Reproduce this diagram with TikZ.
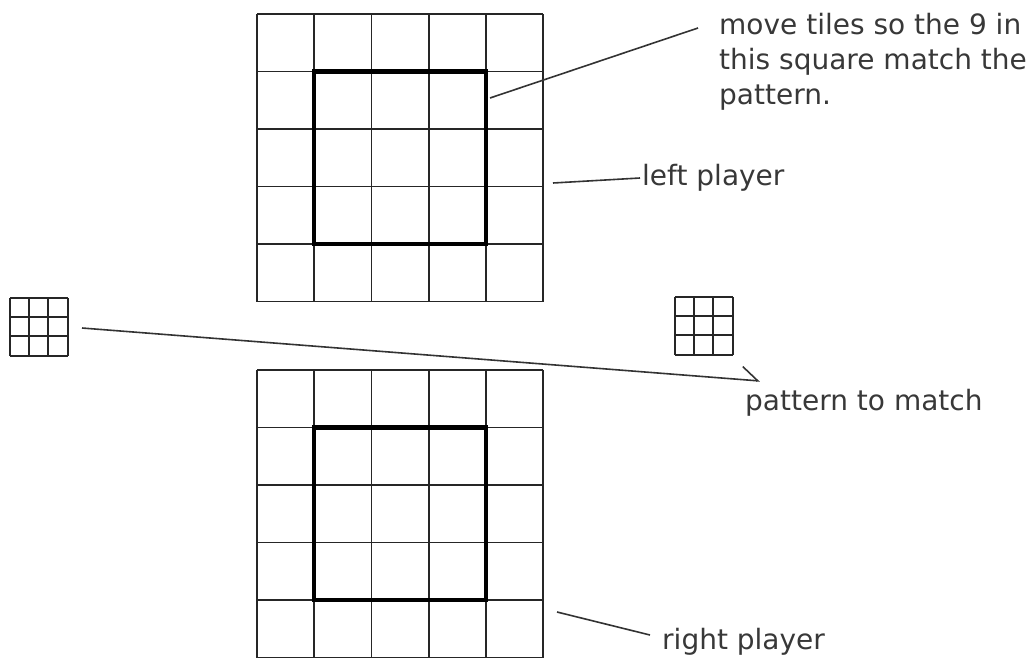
\documentclass[tikz,border=0pt]{standalone}
\usepackage{fontspec}
\setmainfont{DejaVu Sans}
\usetikzlibrary{arrows.meta, positioning}
\tikzset{
  cellline/.style={draw=black!85, line width=1.8pt},
  bigbox/.style={draw=black, line width=4.4pt},
  miniline/.style={draw=black!85, line width=2pt},
  note/.style={font=\fontsize{28}{35}\selectfont, text=black!78, inner sep=0pt, align=left},
  leader/.style={draw=black!80, line width=1.6pt},
}

\begin{document}
\begin{tikzpicture}[x=1pt, y=-1pt]
  \useasboundingbox (0,0) rectangle (1036,659);

  % the two boards, 5x5 tiles each
  \foreach \top in {14,370} {
    \foreach \k in {0,...,5} {
      \draw[cellline] ({257+\k*57.2},\top) -- ({257+\k*57.2},{\top+287.5});
      \draw[cellline] (257,{\top+\k*57.5}) -- (543,{\top+\k*57.5});
    }
    \draw[bigbox] ({257+57.2},{\top+57.5}) rectangle ({257+4*57.2},{\top+4*57.5});
  }

  % small 3x3 patterns
  \foreach \lx/\ty in {10/298, 675/297} {
    \foreach \k in {0,...,3} {
      \draw[miniline] ({\lx+\k*19.2},\ty) -- ({\lx+\k*19.2},{\ty+57.5});
      \draw[miniline] (\lx,{\ty+\k*19.2}) -- ({\lx+57.5},{\ty+\k*19.2});
    }
  }

  % notes
  \node[note, anchor=north west] (movenote) at (719,13)
    {move tiles so the 9 in\\this square match the\\pattern.};
  \node[note, anchor=base west] (leftnote) at (642,185) {left player};
  \node[note, anchor=base west] (rightnote) at (662,649) {right player};
  \node[note, anchor=base west] (patternnote) at (745,410) {pattern to match};

  % leader lines
  \coordinate (movefrom) at (490,98);
  \coordinate (moveto) at (698,28);
  \coordinate (leftfrom) at (553,183);
  \coordinate (leftto) at (640,178);
  \coordinate (rightfrom) at (557,612);
  \coordinate (rightto) at (650,635);
  \coordinate (pattfrom) at (82,328);
  \coordinate (pattto) at (760,381);

  \draw[leader] (movefrom) -- (moveto);
  \draw[leader] (leftfrom) -- (leftto);
  \draw[leader] (rightfrom) -- (rightto);
  \draw[leader, -{Straight Barb[left, length=16pt, width=26pt]}] (pattfrom) -- (pattto);
\end{tikzpicture}
\end{document}
